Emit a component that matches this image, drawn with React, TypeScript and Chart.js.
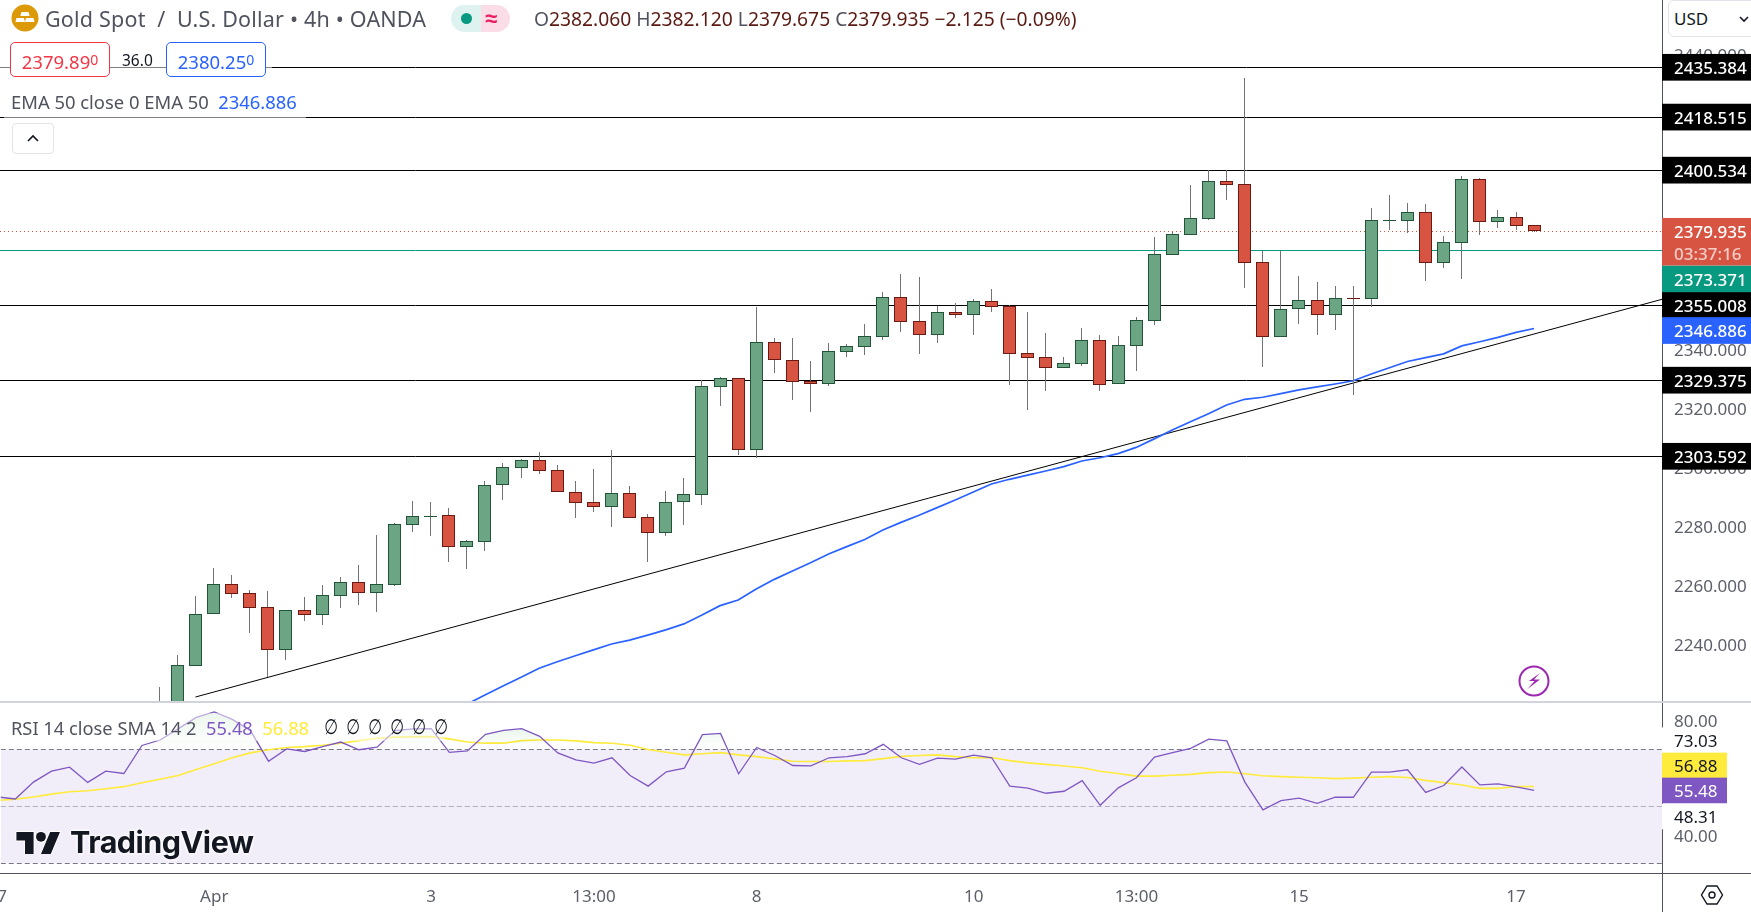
import React, { useEffect, useRef } from 'react'
import { Chart, registerables } from 'chart.js'

Chart.register(...registerables)

const FONT = '"Noto Sans", sans-serif'
const AXIS_FONT = { family: '"Noto Sans", sans-serif', size: 17 }
const AXIS_WIDTH = 89
const GREY = '#5d606b'

// 4h candles, the first one sits mostly under the pane
const opens = [2205, 2215, 2232.7, 2250.1, 2260.2, 2257.2, 2252.4, 2237.9, 2251.4, 2249.9, 2256.4, 2260.9, 2257.4, 2260.1, 2280.4, 2283.2, 2283.6, 2273, 2274.7, 2293.8, 2299.7, 2302.2, 2298.8, 2291.4, 2288, 2286.5, 2291, 2282.9, 2277.7, 2288, 2290.6, 2327.2, 2330, 2305.8, 2342.2, 2336.1, 2329, 2328.2, 2339, 2340.7, 2344.1, 2357.5, 2349.3, 2344.8, 2352.4, 2351.6, 2356.1, 2354.5, 2338.5, 2337.1, 2333.6, 2335, 2342.9, 2328, 2341.1, 2349.5, 2371.9, 2378.7, 2384.1, 2396.8, 2395.7, 2369.3, 2344.1, 2353.4, 2356.4, 2351.6, 2357.1, 2357, 2383.5, 2383.4, 2386.2, 2369.2, 2376, 2397.4, 2383.1, 2384.6, 2382.06]
const highs = [2225.5, 2236.3, 2256.2, 2265.7, 2263.4, 2258.3, 2257.9, 2251.4, 2255.9, 2260, 2262.7, 2266.8, 2276.9, 2281, 2288.5, 2288.1, 2286.1, 2275.1, 2295.2, 2301.3, 2302.7, 2304.9, 2300.5, 2295.2, 2299.3, 2305.7, 2293.5, 2284, 2291.8, 2296.2, 2329.3, 2330.5, 2330, 2354.2, 2343.6, 2343.7, 2335.9, 2342, 2341.6, 2348.4, 2359.3, 2365.4, 2364.3, 2354.5, 2355.5, 2356.9, 2360.3, 2354.9, 2352.5, 2345.4, 2337.2, 2347.1, 2344.7, 2344.4, 2350.8, 2377.9, 2379.5, 2395.5, 2400.5, 2400.5, 2431.6, 2373.3, 2373.3, 2364.7, 2362.7, 2361.3, 2361.3, 2387.7, 2392.1, 2389.4, 2389.1, 2378.2, 2398.6, 2397.9, 2387, 2386.4, 2382.12]
const lows = [2200, 2212, 2232.7, 2250.1, 2255.7, 2243.8, 2228.8, 2234.7, 2247.9, 2246.6, 2252.3, 2253.3, 2251, 2259.8, 2278, 2276.7, 2267.9, 2265.5, 2271.6, 2288.8, 2296.4, 2297.7, 2291.4, 2282.8, 2284.8, 2279.8, 2282.8, 2267.9, 2276.6, 2280.3, 2287.2, 2320.8, 2304, 2303.1, 2331.9, 2322.7, 2318.6, 2327.4, 2337.2, 2337.9, 2343, 2345.8, 2338.4, 2342.1, 2350.6, 2344.8, 2352.6, 2327.9, 2319.4, 2325.8, 2333.6, 2334.2, 2325.8, 2328, 2332.6, 2348.1, 2371.9, 2378.7, 2383.6, 2390.4, 2360.6, 2333.9, 2344.1, 2348.4, 2344.7, 2346.4, 2324.4, 2354.3, 2380.3, 2379.3, 2363, 2367.4, 2363.7, 2378.6, 2380.9, 2380.3, 2379.675]
const closes = [2218, 2232.8, 2250.1, 2260.2, 2257.1, 2252.3, 2237.9, 2251.4, 2249.9, 2256.5, 2260.9, 2257.4, 2260.2, 2280.5, 2283.2, 2283.4, 2273, 2274.8, 2293.8, 2299.9, 2302.2, 2298.7, 2291.4, 2287.9, 2286.5, 2291, 2282.8, 2277.7, 2288, 2290.7, 2327.3, 2330, 2305.8, 2342.2, 2336.1, 2328.9, 2328.2, 2339.2, 2340.8, 2344.2, 2357.5, 2349.2, 2344.8, 2352.4, 2351.6, 2356.1, 2354.3, 2338.4, 2337, 2333.6, 2335.1, 2342.9, 2327.9, 2341.2, 2349.7, 2372, 2378.8, 2384.2, 2396.8, 2395.6, 2369.2, 2344.1, 2353.4, 2356.4, 2351.6, 2357.1, 2357, 2383.5, 2383.6, 2386.2, 2369.2, 2376.1, 2397.4, 2383.1, 2384.6, 2381.7, 2379.935]
const emaValues = [2216.8, 2219.6, 2222.7, 2225.8, 2228.7, 2231.8, 2234, 2236, 2238, 2240, 2241.3, 2243, 2244.8, 2246.8, 2249.8, 2253, 2254.9, 2258.6, 2261.9, 2264.7, 2267.5, 2270.5, 2273, 2275.4, 2278.6, 2281.2, 2283.6, 2286.2, 2288.8, 2291.5, 2294.2, 2295.8, 2297.2, 2298.6, 2300.1, 2302, 2303.1, 2304.5, 2306.6, 2309.5, 2312.5, 2315.3, 2318, 2321, 2322.9, 2323.6, 2324.8, 2326.1, 2327.1, 2328.1, 2329.2, 2331.5, 2333.6, 2335.7, 2337, 2338.3, 2341, 2342.4, 2343.9, 2345.6, 2346.886]
const rsiValues = [53.2, 52.5, 58.4, 62.2, 63.6, 58.3, 62.2, 61.4, 71.2, 73.1, 77, 81, 82.9, 80.3, 76.4, 65.7, 70, 69.1, 70.8, 72.4, 69.7, 70.6, 76.4, 77, 77.1, 68.8, 69.3, 75.1, 76.5, 77.1, 74.4, 68.6, 66.2, 65, 66.9, 60.7, 57, 62, 63.3, 75, 75.4, 61.3, 70.5, 67.7, 64.2, 64.1, 66.9, 67.3, 68.3, 71.6, 66.9, 64.6, 66.8, 66.4, 67.8, 66.9, 57, 56.3, 54.5, 55.2, 58.9, 50.3, 56.4, 59.9, 67.1, 68.7, 70.2, 73.4, 72.8, 58.4, 48.7, 51.9, 52.8, 51, 53.1, 53.1, 61.9, 61.9, 62.7, 54.8, 57.2, 63.7, 57.4, 57.8, 56.7, 55.48]
const rsiSma = [52, 52.4, 53.2, 54.2, 55, 55.4, 56.1, 56.8, 58.2, 59.4, 60.7, 62.8, 64.8, 66.9, 68.6, 69.7, 70.5, 70.8, 71.3, 72, 72.9, 73.7, 74.1, 74.2, 74.3, 73.5, 72.4, 72, 72, 72.9, 73.1, 73.1, 72.8, 72.2, 72, 71.3, 69.8, 68.8, 67.9, 68.3, 68.7, 67.9, 67.3, 66.5, 65.7, 65.6, 65.6, 65.8, 65.9, 66.6, 67.4, 67.7, 67.9, 67.3, 66.9, 67, 65.9, 65.1, 64.6, 64, 63.4, 62.2, 61.4, 60.5, 60.5, 60.8, 61.1, 61.7, 61.9, 61.3, 60.6, 60.3, 60.1, 59.9, 59.6, 59.8, 60.1, 60.3, 60, 59, 58.2, 57.4, 56.2, 56.2, 56.8, 56.88]

const levels = [2435.384, 2418.515, 2400.534, 2355.008, 2329.375, 2303.592]
const lastPrice = 2379.935
const baseline = 2373.371
const trendFrom = [11, 2222.04]
const trendTo = [92.07, 2356.78]
const rsiBands = [70, 50, 30]

const timeTicks = [0, 12, 24, 33, 42, 54, 63, 72, 84]
const timeLabels = ['27', 'Apr', '3', '13:00', '8', '10', '13:00', '15', '17']

// index of the first candle / first EMA point on the RSI's bar count
const candleStart = 9
const emaStart = 25

const xMin = 0.194
const xMax = 92.07

const priceBadges = [
  { value: 2435.384, bg: '#000000', shift: 0 },
  { value: 2418.515, bg: '#000000', shift: 0 },
  { value: 2400.534, bg: '#000000', shift: 0 },
  { value: 2329.375, bg: '#000000', shift: 0 },
  { value: 2303.592, bg: '#000000', shift: 0 },
  { value: 2355.008, bg: '#000000', shift: 0.5 },
  { value: 2346.886, bg: '#2962ff', shift: 2 },
  { value: 2373.371, bg: '#089981', shift: 28.5 },
]

const rsiBadges = [
  { value: 73.03, bg: '#ffffff', color: '#131722', shift: 0 },
  { value: 48.31, bg: '#ffffff', color: '#131722', shift: 5.5 },
  { value: 56.88, bg: '#ffeb3b', color: '#131722', shift: -21 },
  { value: 55.48, bg: '#7e57c2', color: '#ffffff', shift: 0 },
]

const flatLine = (value: number, color: string, extra = {}) => ({
  type: 'line',
  data: [
    { x: xMin, y: value },
    { x: xMax, y: value },
  ],
  borderColor: color,
  borderWidth: 1,
  pointRadius: 0,
  snap: true,
  order: 5,
  ...extra,
})

// keeps candles and horizontal lines on whole pixels like the original
const snapPlugin = {
  id: 'snap',
  beforeDraw(chart: any) {
    // Noto sits a little high compared with the original font
    chart.scales.y.getLabelItems().forEach((item: any) => {
      const [x, y] = item.options.translation
      item.options.translation = [x, y + 2]
    })
  },
  beforeDatasetsDraw(chart: any) {
    chart.getSortedVisibleDatasetMetas().forEach((meta: any) => {
      if (meta.type === 'bar') {
        meta.data.forEach((el: any) => {
          const top = Math.round(el.y)
          const base = Math.round(el.base)
          el.x = Math.floor(el.x) + 0.5
          el.y = top
          el.base = top === base ? top + 1 : base
        })
      } else if (meta._dataset.snap) {
        meta.data.forEach((pt: any) => {
          pt.y = Math.round(pt.y) + 0.5
        })
      }
    })
  },
}

const drawBadge = (ctx: any, left: number, right: number, y: number, bg: string, color: string, text: string, height = 26.7) => {
  ctx.fillStyle = bg
  ctx.fillRect(left, y - height / 2, right - left, height)
  ctx.fillStyle = color
  ctx.fillText(text, left + 12, y + 2)
}

const priceBadgePlugin = {
  id: 'priceBadges',
  afterDraw(chart: any) {
    const { ctx, chartArea, scales, width } = chart
    const left = chartArea.right
    ctx.save()
    ctx.font = `500 17px ${FONT}`
    ctx.textBaseline = 'middle'
    priceBadges.forEach((b) => {
      drawBadge(ctx, left, width, scales.y.getPixelForValue(b.value) + b.shift, b.bg, '#ffffff', b.value.toFixed(3))
    })
    const y = scales.y.getPixelForValue(lastPrice)
    ctx.fillStyle = '#d75442'
    ctx.fillRect(left, y - 13, width - left, 47.5)
    ctx.fillStyle = '#ffffff'
    ctx.fillText(lastPrice.toFixed(3), left + 12, y + 2)
    ctx.fillStyle = 'rgba(255,255,255,0.7)'
    ctx.fillText('03:37:16', left + 12, y + 24)
    ctx.restore()
  },
}

const rsiOverlayPlugin = {
  id: 'rsiOverlay',
  afterDraw(chart: any) {
    const { ctx, chartArea, scales, width, height } = chart
    const left = chartArea.right
    ctx.save()
    ctx.font = `17px ${FONT}`
    ctx.textBaseline = 'middle'
    rsiBadges.forEach((b) => {
      drawBadge(ctx, left, left + 65, scales.y.getPixelForValue(b.value) + b.shift, b.bg, b.color, b.value.toFixed(2), 25.6)
    })
    // time axis
    ctx.fillStyle = '#50535e'
    ctx.fillRect(0, chartArea.bottom, width, 1)
    ctx.fillRect(left, chartArea.bottom, 1, height - chartArea.bottom)
    ctx.fillStyle = GREY
    ctx.textAlign = 'center'
    timeTicks.forEach((t, i) => {
      ctx.fillText(timeLabels[i], scales.x.getPixelForValue(t), chartArea.bottom + 24)
    })
    ctx.restore()
  },
}

// bar charts switch offset on by default, the pane runs edge to edge
const xScale = { type: 'linear', display: false, offset: false, min: xMin, max: xMax }

const yAxis = (min: number, max: number, digits: number) => ({
  position: 'right',
  min,
  max,
  afterFit(scale: any) {
    scale.width = AXIS_WIDTH
    scale.paddingTop = 0
    scale.paddingBottom = 0
  },
  grid: { display: false, drawTicks: false },
  border: { display: true, color: '#50535e', width: 1 },
  ticks: {
    stepSize: 20,
    includeBounds: false,
    autoSkip: false,
    padding: 12,
    color: GREY,
    font: AXIS_FONT,
    callback: (v: number) => v.toFixed(digits),
  },
})

const baseOptions = {
  responsive: false,
  animation: false,
  events: [],
  plugins: { legend: { display: false }, tooltip: { enabled: false } },
}

const PriceChart = () => {
  const ref = useRef<HTMLCanvasElement>(null)

  useEffect(() => {
    if (!ref.current) return
    const up = opens.map((o, i) => closes[i] >= o)
    const chart = new Chart(ref.current, {
      data: {
        datasets: [
          ...levels.map((l) => flatLine(l, '#000000')),
          flatLine(baseline, '#089981'),
          flatLine(lastPrice, '#d75442', { borderDash: [1, 3] }),
          {
            type: 'line',
            data: [
              { x: trendFrom[0], y: trendFrom[1] },
              { x: trendTo[0], y: trendTo[1] },
            ],
            borderColor: '#000000',
            borderWidth: 1,
            pointRadius: 0,
            order: 4,
          },
          {
            type: 'line',
            data: emaValues.map((y, i) => ({ x: i + emaStart, y })),
            borderColor: '#2962ff',
            borderWidth: 1.7,
            pointRadius: 0,
            order: 3,
          },
          {
            type: 'bar',
            data: highs.map((h, i) => ({ x: i + candleStart, y: [lows[i], h] })),
            backgroundColor: '#737375',
            barThickness: 1,
            grouped: false,
            inflateAmount: 0,
            order: 2,
          },
          {
            type: 'bar',
            data: opens.map((o, i) => ({ x: i + candleStart, y: [Math.min(o, closes[i]), Math.max(o, closes[i])] })),
            backgroundColor: up.map((u) => (u ? '#6ba583' : '#d75442')),
            borderColor: up.map((u) => (u ? '#225437' : '#6b1a13')),
            borderWidth: 1,
            borderSkipped: false,
            barThickness: 13,
            grouped: false,
            inflateAmount: 0,
            order: 1,
          },
        ],
      },
      options: {
        ...baseOptions,
        scales: { x: xScale, y: yAxis(2220.69, 2458.185, 3) },
      },
      plugins: [snapPlugin, priceBadgePlugin],
    } as any)
    return () => chart.destroy()
  }, [])

  return <canvas ref={ref} width={1751} height={701} style={{ position: 'absolute', left: 0, top: 0 }} />
}

const RsiChart = () => {
  const ref = useRef<HTMLCanvasElement>(null)

  useEffect(() => {
    if (!ref.current) return
    const chart = new Chart(ref.current, {
      data: {
        datasets: [
          {
            type: 'line',
            data: rsiSma.map((y, i) => ({ x: i, y })),
            borderColor: '#ffeb3b',
            borderWidth: 1.6,
            pointRadius: 0,
            order: 2,
          },
          {
            type: 'line',
            data: rsiValues.map((y, i) => ({ x: i, y })),
            borderColor: '#7e57c2',
            borderWidth: 1.3,
            pointRadius: 0,
            fill: { target: { value: 70 }, above: 'rgba(76,175,80,0.1)', below: 'rgba(0,0,0,0)' },
            order: 1,
          },
          flatLine(rsiBands[0], '#787b86', {
            borderDash: [5, 3],
            fill: { target: { value: rsiBands[2] }, above: 'rgba(126,87,194,0.1)' },
          }),
          flatLine(rsiBands[1], 'rgba(120,123,134,0.55)', { borderDash: [5, 3] }),
          flatLine(rsiBands[2], '#787b86', { borderDash: [5, 3] }),
        ],
      },
      options: {
        ...baseOptions,
        layout: { padding: { bottom: 39 } },
        scales: { x: xScale, y: yAxis(26.63, 85.76, 2) },
      },
      plugins: [snapPlugin, rsiOverlayPlugin],
    } as any)

    // green glow above the 70 line fades towards the band
    const y = chart.scales.y
    const glow = chart.ctx.createLinearGradient(0, y.getPixelForValue(84), 0, y.getPixelForValue(70))
    glow.addColorStop(0, 'rgba(76,175,80,0.24)')
    glow.addColorStop(1, 'rgba(76,175,80,0)')
    ;(chart.data.datasets[1] as any).fill.above = glow
    chart.update('none')

    return () => chart.destroy()
  }, [])

  return <canvas ref={ref} width={1751} height={209} style={{ position: 'absolute', left: 0, top: 703 }} />
}

const at = (left: number, top: number, extra: React.CSSProperties = {}): React.CSSProperties => ({
  position: 'absolute',
  left,
  top,
  whiteSpace: 'pre',
  ...extra,
})

const PriceBox = ({ left, color, value }: { left: number; color: string; value: string }) => (
  <div
    style={at(left, 42, {
      width: 100,
      height: 35,
      boxSizing: 'border-box',
      border: `1px solid ${color}`,
      borderRadius: 5,
      background: '#fff',
      color,
      fontSize: 18.5,
      lineHeight: '34px',
      textAlign: 'center',
    })}
  >
    {value}
    <span style={{ fontSize: 14, verticalAlign: 4 }}>0</span>
  </div>
)

const Label = ({ children, color }: { children: React.ReactNode; color: string }) => <span style={{ color }}>{children}</span>

const Overlay = () => (
  <>
    {/* symbol row */}
    <svg style={at(11, 4)} width={28} height={28} viewBox="0 0 28 28">
      <circle cx={14} cy={14} r={13.5} fill="#dc9a08" />
      <path d="M10.5 8h7l1.2 4H9.3zM5.5 14h7.4l1.1 4H4.4zM15 14h7.4l1.2 4H14z" fill="#fff" />
    </svg>
    <div style={at(45, 5, { fontSize: 21.5, lineHeight: '28px', letterSpacing: 0.2, color: '#50535e' })}>Gold Spot  /  U.S. Dollar • 4h • OANDA</div>
    <div style={at(451, 5, { width: 30, height: 27, background: '#def2ef', borderRadius: '14px 0 0 14px' })} />
    <div style={at(481, 5, { width: 29, height: 27, background: '#fbdde7', borderRadius: '0 14px 14px 0' })} />
    <div style={at(461, 13, { width: 11, height: 11, borderRadius: 6, background: '#089981' })} />
    <div style={at(485, 4, { fontSize: 22, lineHeight: '27px', fontWeight: 700, color: '#e91e63' })}>≈</div>
    <div style={at(534, 5, { fontSize: 19.25, lineHeight: '28px', color: '#5b1a13' })}>
      <Label color="#50535e">O</Label>2382.060 <Label color="#50535e">H</Label>2382.120 <Label color="#50535e">L</Label>2379.675{' '}
      <Label color="#50535e">C</Label>2379.935 −2.125 (−0.09%)
    </div>

    {/* bid / ask */}
    <div style={at(0, 62, { width: 272, height: 10, background: 'rgba(255,255,255,0.5)' })} />
    <PriceBox left={10} color="#f23645" value="2379.89" />
    <div style={at(122, 48, { fontSize: 15.5, lineHeight: '24px', color: '#131722' })}>36.0</div>
    <PriceBox left={166} color="#2962ff" value="2380.25" />

    {/* EMA legend */}
    <div style={at(4, 88, { width: 302, height: 30, background: 'rgba(255,255,255,0.5)' })} />
    <div style={at(11, 88, { fontSize: 18.4, lineHeight: '28px', color: '#50535e' })}>
      EMA 50 close 0 EMA 50{'  '}
      <Label color="#2962ff">2346.886</Label>
    </div>
    <div style={at(12, 123, { width: 42, height: 31, boxSizing: 'border-box', border: '1px solid #e0e3eb', borderRadius: 4, background: '#fff' })}>
      <svg width={40} height={29} viewBox="0 0 40 29">
        <path d="M15 17l5-5 5 5" fill="none" stroke="#131722" strokeWidth={1.6} />
      </svg>
    </div>

    {/* currency button */}
    <div
      style={at(1668, 0, {
        width: 90,
        height: 37,
        boxSizing: 'border-box',
        border: '1px solid #e0e3eb',
        borderRadius: 6,
        background: '#fff',
        fontSize: 17,
        lineHeight: '35px',
        paddingLeft: 5,
        color: '#131722',
      })}
    >
      USD
    </div>
    <svg style={at(1738, 13)} width={12} height={12} viewBox="0 0 12 12">
      <path d="M2 4l4 4 4-4" fill="none" stroke="#131722" strokeWidth={1.6} />
    </svg>

    {/* pane separator */}
    <div style={at(0, 701, { width: 1751, height: 2, background: '#d1d4dc' })} />

    {/* RSI legend */}
    <div style={at(4, 713, { width: 440, height: 28, background: 'rgba(255,255,255,0.5)' })} />
    <div style={at(11, 714, { fontSize: 18.3, lineHeight: '28px', color: '#50535e' })}>
      RSI 14 close SMA 14 2{'  '}
      <Label color="#7e57c2">55.48</Label>
      {'  '}
      <Label color="#ffeb3b">56.88</Label>
    </div>
    {[322, 344, 366, 388, 410, 432].map((left) => (
      <div
        key={left}
        style={at(left, 713, {
          fontFamily: '"DejaVu Sans", sans-serif',
          fontSize: 21,
          lineHeight: '28px',
          color: '#131722',
          transform: 'scaleX(0.75)',
        })}
      >
        ∅
      </div>
    ))}

    {/* logo */}
    <svg style={at(15, 827)} width={47} height={27} viewBox="0 0 36 22">
      <path
        d="M14 22H7V11H0V4h14v18zM28 22h-8l7.5-18h8L28 22z"
        fill="#131722"
        stroke="#fff"
        strokeWidth={1.5}
        paintOrder="stroke"
      />
      <circle cx={20} cy={8} r={4} fill="#131722" stroke="#fff" strokeWidth={1.5} paintOrder="stroke" />
    </svg>
    <div
      style={at(70, 822, {
        fontFamily: 'Inter, sans-serif',
        fontWeight: 700,
        fontSize: 30.5,
        lineHeight: '40px',
        letterSpacing: -0.5,
        color: '#131722',
        textShadow: '0 0 3px #fff, 0 0 3px #fff, 0 0 3px #fff',
      })}
    >
      TradingView
    </div>

    {/* lightning badge */}
    <svg style={at(1518, 665)} width={32} height={32} viewBox="0 0 32 32">
      <circle cx={16} cy={16} r={14.5} fill="none" stroke="#9c27b0" strokeWidth={2} />
      <path d="M22 8l-11 8h5.5L9.5 24l12.5-9.5h-6z" fill="#9c27b0" />
    </svg>

    {/* settings hexagon */}
    <svg style={at(1700, 883)} width={24} height={24} viewBox="0 0 24 24">
      <path d="M7 3h10l5.5 9-5.5 9H7L1.5 12z" fill="none" stroke="#131722" strokeWidth={1.4} />
      <circle cx={12} cy={12} r={3} fill="none" stroke="#131722" strokeWidth={1.4} />
    </svg>
  </>
)

export default function App() {
  return (
    <div
      style={{
        position: 'fixed',
        left: 0,
        top: 0,
        width: 1751,
        height: 912,
        overflow: 'hidden',
        background: '#fff',
        fontFamily: FONT,
      }}
    >
      <PriceChart />
      <RsiChart />
      <Overlay />
    </div>
  )
}
